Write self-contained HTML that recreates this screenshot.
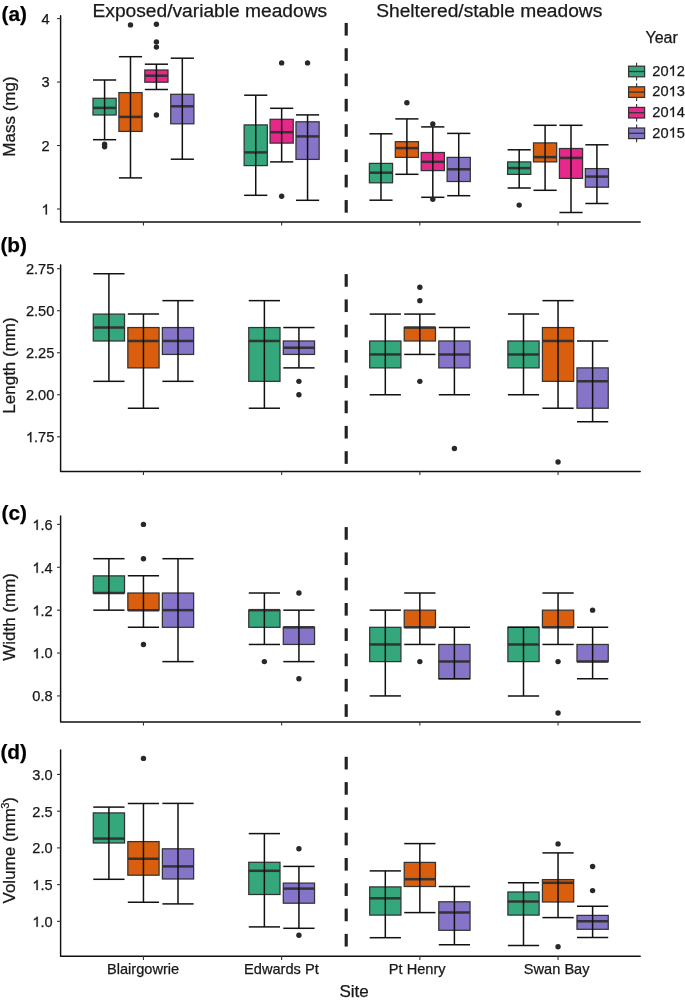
<!DOCTYPE html>
<html><head><meta charset="utf-8"><style>
html,body{margin:0;padding:0;background:#fff;}
svg{display:block;font-family:"Liberation Sans", sans-serif;will-change:transform;}
text{stroke:#111;stroke-width:0.25px;}
</style></head><body>
<svg width="685" height="1002" viewBox="0 0 685 1002">
<rect width="685" height="1002" fill="#fff"/>
<rect x="344.62" y="22.95" width="3.16" height="12.65" fill="#222"/>
<rect x="344.62" y="48.25" width="3.16" height="12.65" fill="#222"/>
<rect x="344.62" y="73.55" width="3.16" height="12.65" fill="#222"/>
<rect x="344.62" y="98.85" width="3.16" height="12.65" fill="#222"/>
<rect x="344.62" y="124.15" width="3.16" height="12.65" fill="#222"/>
<rect x="344.62" y="149.45" width="3.16" height="12.65" fill="#222"/>
<rect x="344.62" y="174.75" width="3.16" height="12.65" fill="#222"/>
<rect x="344.62" y="200.05" width="3.16" height="12.65" fill="#222"/>
<rect x="92.99" y="98.3" width="23.18" height="16.7" fill="#34a77c" stroke="#333333" stroke-width="1.25"/>
<line x1="92.99" x2="116.17" y1="107.9" y2="107.9" stroke="#333333" stroke-width="2.5"/>
<line x1="104.58" x2="104.58" y1="80" y2="139.7" stroke="#111111" stroke-width="1.5"/>
<line x1="92.99" x2="116.17" y1="80" y2="80" stroke="#111111" stroke-width="1.5"/>
<line x1="92.99" x2="116.17" y1="139.7" y2="139.7" stroke="#111111" stroke-width="1.5"/>
<circle cx="104.58" cy="144.3" r="2.7" fill="#2b2725"/>
<circle cx="104.58" cy="146.8" r="2.7" fill="#2b2725"/>
<rect x="118.9" y="92.6" width="23.18" height="38.8" fill="#d95f0e" stroke="#333333" stroke-width="1.25"/>
<line x1="118.9" x2="142.09" y1="116.9" y2="116.9" stroke="#333333" stroke-width="2.5"/>
<line x1="130.49" x2="130.49" y1="56.7" y2="177.9" stroke="#111111" stroke-width="1.5"/>
<line x1="118.9" x2="142.09" y1="56.7" y2="56.7" stroke="#111111" stroke-width="1.5"/>
<line x1="118.9" x2="142.09" y1="177.9" y2="177.9" stroke="#111111" stroke-width="1.5"/>
<circle cx="130.49" cy="24.9" r="2.7" fill="#2b2725"/>
<rect x="144.81" y="70" width="23.18" height="12.2" fill="#e5288a" stroke="#333333" stroke-width="1.25"/>
<line x1="144.81" x2="168" y1="75.7" y2="75.7" stroke="#333333" stroke-width="2.5"/>
<line x1="156.41" x2="156.41" y1="64.2" y2="89.5" stroke="#111111" stroke-width="1.5"/>
<line x1="144.81" x2="168" y1="64.2" y2="64.2" stroke="#111111" stroke-width="1.5"/>
<line x1="144.81" x2="168" y1="89.5" y2="89.5" stroke="#111111" stroke-width="1.5"/>
<circle cx="156.41" cy="24.3" r="2.7" fill="#2b2725"/>
<circle cx="156.41" cy="41.9" r="2.7" fill="#2b2725"/>
<circle cx="156.41" cy="47.1" r="2.7" fill="#2b2725"/>
<circle cx="156.41" cy="115" r="2.7" fill="#2b2725"/>
<rect x="170.73" y="94.3" width="23.18" height="29.5" fill="#8574c7" stroke="#333333" stroke-width="1.25"/>
<line x1="170.73" x2="193.91" y1="106.3" y2="106.3" stroke="#333333" stroke-width="2.5"/>
<line x1="182.32" x2="182.32" y1="58.2" y2="159.2" stroke="#111111" stroke-width="1.5"/>
<line x1="170.73" x2="193.91" y1="58.2" y2="58.2" stroke="#111111" stroke-width="1.5"/>
<line x1="170.73" x2="193.91" y1="159.2" y2="159.2" stroke="#111111" stroke-width="1.5"/>
<rect x="244.14" y="124.9" width="23.18" height="40.7" fill="#34a77c" stroke="#333333" stroke-width="1.25"/>
<line x1="244.14" x2="267.33" y1="152.4" y2="152.4" stroke="#333333" stroke-width="2.5"/>
<line x1="255.74" x2="255.74" y1="95.2" y2="195.3" stroke="#111111" stroke-width="1.5"/>
<line x1="244.14" x2="267.33" y1="95.2" y2="95.2" stroke="#111111" stroke-width="1.5"/>
<line x1="244.14" x2="267.33" y1="195.3" y2="195.3" stroke="#111111" stroke-width="1.5"/>
<rect x="270.06" y="119.3" width="23.18" height="23.8" fill="#e5288a" stroke="#333333" stroke-width="1.25"/>
<line x1="270.06" x2="293.24" y1="132.2" y2="132.2" stroke="#333333" stroke-width="2.5"/>
<line x1="281.65" x2="281.65" y1="108.3" y2="161.9" stroke="#111111" stroke-width="1.5"/>
<line x1="270.06" x2="293.24" y1="108.3" y2="108.3" stroke="#111111" stroke-width="1.5"/>
<line x1="270.06" x2="293.24" y1="161.9" y2="161.9" stroke="#111111" stroke-width="1.5"/>
<circle cx="281.65" cy="62.9" r="2.7" fill="#2b2725"/>
<circle cx="281.65" cy="196.2" r="2.7" fill="#2b2725"/>
<rect x="295.97" y="121.8" width="23.18" height="37.6" fill="#8574c7" stroke="#333333" stroke-width="1.25"/>
<line x1="295.97" x2="319.15" y1="136.4" y2="136.4" stroke="#333333" stroke-width="2.5"/>
<line x1="307.56" x2="307.56" y1="114.9" y2="200.3" stroke="#111111" stroke-width="1.5"/>
<line x1="295.97" x2="319.15" y1="114.9" y2="114.9" stroke="#111111" stroke-width="1.5"/>
<line x1="295.97" x2="319.15" y1="200.3" y2="200.3" stroke="#111111" stroke-width="1.5"/>
<circle cx="307.56" cy="62.9" r="2.7" fill="#2b2725"/>
<rect x="369.39" y="163.4" width="23.18" height="19.4" fill="#34a77c" stroke="#333333" stroke-width="1.25"/>
<line x1="369.39" x2="392.57" y1="172.7" y2="172.7" stroke="#333333" stroke-width="2.5"/>
<line x1="380.98" x2="380.98" y1="133.8" y2="200.2" stroke="#111111" stroke-width="1.5"/>
<line x1="369.39" x2="392.57" y1="133.8" y2="133.8" stroke="#111111" stroke-width="1.5"/>
<line x1="369.39" x2="392.57" y1="200.2" y2="200.2" stroke="#111111" stroke-width="1.5"/>
<rect x="395.3" y="141.7" width="23.18" height="15.7" fill="#d95f0e" stroke="#333333" stroke-width="1.25"/>
<line x1="395.3" x2="418.49" y1="148.1" y2="148.1" stroke="#333333" stroke-width="2.5"/>
<line x1="406.89" x2="406.89" y1="118.9" y2="174.3" stroke="#111111" stroke-width="1.5"/>
<line x1="395.3" x2="418.49" y1="118.9" y2="118.9" stroke="#111111" stroke-width="1.5"/>
<line x1="395.3" x2="418.49" y1="174.3" y2="174.3" stroke="#111111" stroke-width="1.5"/>
<circle cx="406.89" cy="102.8" r="2.7" fill="#2b2725"/>
<rect x="421.21" y="152.5" width="23.18" height="18.1" fill="#e5288a" stroke="#333333" stroke-width="1.25"/>
<line x1="421.21" x2="444.4" y1="161.8" y2="161.8" stroke="#333333" stroke-width="2.5"/>
<line x1="432.81" x2="432.81" y1="126.9" y2="197.3" stroke="#111111" stroke-width="1.5"/>
<line x1="421.21" x2="444.4" y1="126.9" y2="126.9" stroke="#111111" stroke-width="1.5"/>
<line x1="421.21" x2="444.4" y1="197.3" y2="197.3" stroke="#111111" stroke-width="1.5"/>
<circle cx="432.81" cy="124" r="2.7" fill="#2b2725"/>
<circle cx="432.81" cy="199.2" r="2.7" fill="#2b2725"/>
<rect x="447.13" y="157.4" width="23.18" height="24.1" fill="#8574c7" stroke="#333333" stroke-width="1.25"/>
<line x1="447.13" x2="470.31" y1="169.3" y2="169.3" stroke="#333333" stroke-width="2.5"/>
<line x1="458.72" x2="458.72" y1="133.4" y2="195.7" stroke="#111111" stroke-width="1.5"/>
<line x1="447.13" x2="470.31" y1="133.4" y2="133.4" stroke="#111111" stroke-width="1.5"/>
<line x1="447.13" x2="470.31" y1="195.7" y2="195.7" stroke="#111111" stroke-width="1.5"/>
<rect x="507.59" y="161.9" width="23.18" height="12.5" fill="#34a77c" stroke="#333333" stroke-width="1.25"/>
<line x1="507.59" x2="530.77" y1="168.1" y2="168.1" stroke="#333333" stroke-width="2.5"/>
<line x1="519.18" x2="519.18" y1="149.8" y2="188" stroke="#111111" stroke-width="1.5"/>
<line x1="507.59" x2="530.77" y1="149.8" y2="149.8" stroke="#111111" stroke-width="1.5"/>
<line x1="507.59" x2="530.77" y1="188" y2="188" stroke="#111111" stroke-width="1.5"/>
<circle cx="519.18" cy="205.1" r="2.7" fill="#2b2725"/>
<rect x="533.5" y="142.9" width="23.18" height="19" fill="#d95f0e" stroke="#333333" stroke-width="1.25"/>
<line x1="533.5" x2="556.69" y1="157.1" y2="157.1" stroke="#333333" stroke-width="2.5"/>
<line x1="545.09" x2="545.09" y1="125.3" y2="190.3" stroke="#111111" stroke-width="1.5"/>
<line x1="533.5" x2="556.69" y1="125.3" y2="125.3" stroke="#111111" stroke-width="1.5"/>
<line x1="533.5" x2="556.69" y1="190.3" y2="190.3" stroke="#111111" stroke-width="1.5"/>
<rect x="559.41" y="148.5" width="23.18" height="29.9" fill="#e5288a" stroke="#333333" stroke-width="1.25"/>
<line x1="559.41" x2="582.6" y1="157.9" y2="157.9" stroke="#333333" stroke-width="2.5"/>
<line x1="571.01" x2="571.01" y1="125.3" y2="212.5" stroke="#111111" stroke-width="1.5"/>
<line x1="559.41" x2="582.6" y1="125.3" y2="125.3" stroke="#111111" stroke-width="1.5"/>
<line x1="559.41" x2="582.6" y1="212.5" y2="212.5" stroke="#111111" stroke-width="1.5"/>
<rect x="585.33" y="168.6" width="23.18" height="18.6" fill="#8574c7" stroke="#333333" stroke-width="1.25"/>
<line x1="585.33" x2="608.51" y1="176.6" y2="176.6" stroke="#333333" stroke-width="2.5"/>
<line x1="596.92" x2="596.92" y1="144.8" y2="203.5" stroke="#111111" stroke-width="1.5"/>
<line x1="585.33" x2="608.51" y1="144.8" y2="144.8" stroke="#111111" stroke-width="1.5"/>
<line x1="585.33" x2="608.51" y1="203.5" y2="203.5" stroke="#111111" stroke-width="1.5"/>
<path d="M60.6,15.72V221.95H640.23" fill="none" stroke="#111111" stroke-width="1.45" stroke-linecap="round" stroke-linejoin="round"/>
<line x1="57" x2="60.6" y1="209" y2="209" stroke="#333" stroke-width="1.1"/>
<text x="41.48" y="214.4" font-size="14.6" fill="#1a1a1a"> </text>
<path d="M763 0L583 0L583 1106Q518 1047 413 987Q308 927 223 897L223 1065Q365 1130 471 1220Q577 1311 621 1420L763 1420Z" transform="translate(41.48,214.4) scale(0.00713,-0.00713)" fill="#1a1a1a" stroke="#111" stroke-width="35.1"/>
<line x1="57" x2="60.6" y1="145.53" y2="145.53" stroke="#333" stroke-width="1.1"/>
<text x="41.48" y="150.93" font-size="14.6" fill="#1a1a1a">2</text>
<line x1="57" x2="60.6" y1="82.06" y2="82.06" stroke="#333" stroke-width="1.1"/>
<text x="41.48" y="87.46" font-size="14.6" fill="#1a1a1a">3</text>
<line x1="57" x2="60.6" y1="18.59" y2="18.59" stroke="#333" stroke-width="1.1"/>
<text x="41.48" y="23.99" font-size="14.6" fill="#1a1a1a">4</text>
<line x1="143.45" x2="143.45" y1="221.95" y2="225.55" stroke="#333" stroke-width="1.1"/>
<line x1="281.65" x2="281.65" y1="221.95" y2="225.55" stroke="#333" stroke-width="1.1"/>
<line x1="419.85" x2="419.85" y1="221.95" y2="225.55" stroke="#333" stroke-width="1.1"/>
<line x1="558.05" x2="558.05" y1="221.95" y2="225.55" stroke="#333" stroke-width="1.1"/>
<text transform="translate(15.1,116.5) rotate(-90)" text-anchor="middle" font-size="17" fill="#1a1a1a">Mass (mg)</text>
<text x="27.0" y="20.7" text-anchor="end" font-size="20.8" font-weight="bold" fill="#000">(a)</text>
<rect x="344.62" y="274.1" width="3.16" height="12.65" fill="#222"/>
<rect x="344.62" y="299.4" width="3.16" height="12.65" fill="#222"/>
<rect x="344.62" y="324.7" width="3.16" height="12.65" fill="#222"/>
<rect x="344.62" y="350" width="3.16" height="12.65" fill="#222"/>
<rect x="344.62" y="375.3" width="3.16" height="12.65" fill="#222"/>
<rect x="344.62" y="400.6" width="3.16" height="12.65" fill="#222"/>
<rect x="344.62" y="425.9" width="3.16" height="12.65" fill="#222"/>
<rect x="344.62" y="451.2" width="3.16" height="12.65" fill="#222"/>
<rect x="93.28" y="314.09" width="31.25" height="26.9" fill="#34a77c" stroke="#333333" stroke-width="1.25"/>
<line x1="93.28" x2="124.52" y1="327.54" y2="327.54" stroke="#333333" stroke-width="2.5"/>
<line x1="108.9" x2="108.9" y1="273.74" y2="381.33" stroke="#111111" stroke-width="1.5"/>
<line x1="93.28" x2="124.52" y1="273.74" y2="273.74" stroke="#111111" stroke-width="1.5"/>
<line x1="93.28" x2="124.52" y1="381.33" y2="381.33" stroke="#111111" stroke-width="1.5"/>
<rect x="127.83" y="327.54" width="31.25" height="40.34" fill="#d95f0e" stroke="#333333" stroke-width="1.25"/>
<line x1="127.83" x2="159.07" y1="340.98" y2="340.98" stroke="#333333" stroke-width="2.5"/>
<line x1="143.45" x2="143.45" y1="314.09" y2="408.22" stroke="#111111" stroke-width="1.5"/>
<line x1="127.83" x2="159.07" y1="314.09" y2="314.09" stroke="#111111" stroke-width="1.5"/>
<line x1="127.83" x2="159.07" y1="408.22" y2="408.22" stroke="#111111" stroke-width="1.5"/>
<rect x="162.38" y="327.54" width="31.25" height="26.9" fill="#8574c7" stroke="#333333" stroke-width="1.25"/>
<line x1="162.38" x2="193.62" y1="340.98" y2="340.98" stroke="#333333" stroke-width="2.5"/>
<line x1="178" x2="178" y1="300.64" y2="381.33" stroke="#111111" stroke-width="1.5"/>
<line x1="162.38" x2="193.62" y1="300.64" y2="300.64" stroke="#111111" stroke-width="1.5"/>
<line x1="162.38" x2="193.62" y1="381.33" y2="381.33" stroke="#111111" stroke-width="1.5"/>
<rect x="248.75" y="327.54" width="31.25" height="53.79" fill="#34a77c" stroke="#333333" stroke-width="1.25"/>
<line x1="248.75" x2="280" y1="340.98" y2="340.98" stroke="#333333" stroke-width="2.5"/>
<line x1="264.38" x2="264.38" y1="300.64" y2="408.22" stroke="#111111" stroke-width="1.5"/>
<line x1="248.75" x2="280" y1="300.64" y2="300.64" stroke="#111111" stroke-width="1.5"/>
<line x1="248.75" x2="280" y1="408.22" y2="408.22" stroke="#111111" stroke-width="1.5"/>
<rect x="283.3" y="340.98" width="31.25" height="13.45" fill="#8574c7" stroke="#333333" stroke-width="1.25"/>
<line x1="283.3" x2="314.55" y1="347.71" y2="347.71" stroke="#333333" stroke-width="2.5"/>
<line x1="298.92" x2="298.92" y1="327.54" y2="367.88" stroke="#111111" stroke-width="1.5"/>
<line x1="283.3" x2="314.55" y1="327.54" y2="327.54" stroke="#111111" stroke-width="1.5"/>
<line x1="283.3" x2="314.55" y1="367.88" y2="367.88" stroke="#111111" stroke-width="1.5"/>
<circle cx="298.92" cy="381.33" r="2.7" fill="#2b2725"/>
<circle cx="298.92" cy="394.77" r="2.7" fill="#2b2725"/>
<rect x="369.68" y="340.98" width="31.25" height="26.9" fill="#34a77c" stroke="#333333" stroke-width="1.25"/>
<line x1="369.68" x2="400.92" y1="354.43" y2="354.43" stroke="#333333" stroke-width="2.5"/>
<line x1="385.3" x2="385.3" y1="314.09" y2="394.77" stroke="#111111" stroke-width="1.5"/>
<line x1="369.68" x2="400.92" y1="314.09" y2="314.09" stroke="#111111" stroke-width="1.5"/>
<line x1="369.68" x2="400.92" y1="394.77" y2="394.77" stroke="#111111" stroke-width="1.5"/>
<rect x="404.23" y="327.54" width="31.25" height="13.45" fill="#d95f0e" stroke="#333333" stroke-width="1.25"/>
<line x1="404.23" x2="435.47" y1="327.54" y2="327.54" stroke="#333333" stroke-width="2.5"/>
<line x1="419.85" x2="419.85" y1="314.09" y2="354.43" stroke="#111111" stroke-width="1.5"/>
<line x1="404.23" x2="435.47" y1="314.09" y2="314.09" stroke="#111111" stroke-width="1.5"/>
<line x1="404.23" x2="435.47" y1="354.43" y2="354.43" stroke="#111111" stroke-width="1.5"/>
<circle cx="419.85" cy="287.19" r="2.7" fill="#2b2725"/>
<circle cx="419.85" cy="300.64" r="2.7" fill="#2b2725"/>
<circle cx="419.85" cy="381.33" r="2.7" fill="#2b2725"/>
<rect x="438.78" y="340.98" width="31.25" height="26.9" fill="#8574c7" stroke="#333333" stroke-width="1.25"/>
<line x1="438.78" x2="470.02" y1="354.43" y2="354.43" stroke="#333333" stroke-width="2.5"/>
<line x1="454.4" x2="454.4" y1="327.54" y2="394.77" stroke="#111111" stroke-width="1.5"/>
<line x1="438.78" x2="470.02" y1="327.54" y2="327.54" stroke="#111111" stroke-width="1.5"/>
<line x1="438.78" x2="470.02" y1="394.77" y2="394.77" stroke="#111111" stroke-width="1.5"/>
<circle cx="454.4" cy="448.57" r="2.7" fill="#2b2725"/>
<rect x="507.88" y="340.98" width="31.25" height="26.9" fill="#34a77c" stroke="#333333" stroke-width="1.25"/>
<line x1="507.88" x2="539.12" y1="354.43" y2="354.43" stroke="#333333" stroke-width="2.5"/>
<line x1="523.5" x2="523.5" y1="314.09" y2="394.77" stroke="#111111" stroke-width="1.5"/>
<line x1="507.88" x2="539.12" y1="314.09" y2="314.09" stroke="#111111" stroke-width="1.5"/>
<line x1="507.88" x2="539.12" y1="394.77" y2="394.77" stroke="#111111" stroke-width="1.5"/>
<rect x="542.43" y="327.54" width="31.25" height="53.79" fill="#d95f0e" stroke="#333333" stroke-width="1.25"/>
<line x1="542.43" x2="573.67" y1="340.98" y2="340.98" stroke="#333333" stroke-width="2.5"/>
<line x1="558.05" x2="558.05" y1="300.64" y2="408.22" stroke="#111111" stroke-width="1.5"/>
<line x1="542.43" x2="573.67" y1="300.64" y2="300.64" stroke="#111111" stroke-width="1.5"/>
<line x1="542.43" x2="573.67" y1="408.22" y2="408.22" stroke="#111111" stroke-width="1.5"/>
<circle cx="558.05" cy="462.01" r="2.7" fill="#2b2725"/>
<rect x="576.98" y="367.88" width="31.25" height="40.34" fill="#8574c7" stroke="#333333" stroke-width="1.25"/>
<line x1="576.98" x2="608.22" y1="381.33" y2="381.33" stroke="#333333" stroke-width="2.5"/>
<line x1="592.6" x2="592.6" y1="340.98" y2="421.67" stroke="#111111" stroke-width="1.5"/>
<line x1="576.98" x2="608.22" y1="340.98" y2="340.98" stroke="#111111" stroke-width="1.5"/>
<line x1="576.98" x2="608.22" y1="421.67" y2="421.67" stroke="#111111" stroke-width="1.5"/>
<path d="M60.6,265.03V471.4H640.23" fill="none" stroke="#111111" stroke-width="1.45" stroke-linecap="round" stroke-linejoin="round"/>
<line x1="57" x2="60.6" y1="436.8" y2="436.8" stroke="#333" stroke-width="1.1"/>
<text x="25.93" y="442.2" font-size="14.6" fill="#1a1a1a"> .75</text>
<path d="M763 0L583 0L583 1106Q518 1047 413 987Q308 927 223 897L223 1065Q365 1130 471 1220Q577 1311 621 1420L763 1420Z" transform="translate(25.93,442.2) scale(0.00713,-0.00713)" fill="#1a1a1a" stroke="#111" stroke-width="35.1"/>
<line x1="57" x2="60.6" y1="394.77" y2="394.77" stroke="#333" stroke-width="1.1"/>
<text x="25.93" y="400.17" font-size="14.6" fill="#1a1a1a">2.00</text>
<line x1="57" x2="60.6" y1="352.75" y2="352.75" stroke="#333" stroke-width="1.1"/>
<text x="25.93" y="358.15" font-size="14.6" fill="#1a1a1a">2.25</text>
<line x1="57" x2="60.6" y1="310.72" y2="310.72" stroke="#333" stroke-width="1.1"/>
<text x="25.93" y="316.12" font-size="14.6" fill="#1a1a1a">2.50</text>
<line x1="57" x2="60.6" y1="268.7" y2="268.7" stroke="#333" stroke-width="1.1"/>
<text x="25.93" y="274.1" font-size="14.6" fill="#1a1a1a">2.75</text>
<line x1="143.45" x2="143.45" y1="471.4" y2="475" stroke="#333" stroke-width="1.1"/>
<line x1="281.65" x2="281.65" y1="471.4" y2="475" stroke="#333" stroke-width="1.1"/>
<line x1="419.85" x2="419.85" y1="471.4" y2="475" stroke="#333" stroke-width="1.1"/>
<line x1="558.05" x2="558.05" y1="471.4" y2="475" stroke="#333" stroke-width="1.1"/>
<text transform="translate(15.1,365.5) rotate(-90)" text-anchor="middle" font-size="17" fill="#1a1a1a">Length (mm)</text>
<text x="27.0" y="251.9" text-anchor="end" font-size="20.8" font-weight="bold" fill="#000">(b)</text>
<rect x="344.62" y="527.1" width="3.16" height="12.65" fill="#222"/>
<rect x="344.62" y="552.4" width="3.16" height="12.65" fill="#222"/>
<rect x="344.62" y="577.7" width="3.16" height="12.65" fill="#222"/>
<rect x="344.62" y="603" width="3.16" height="12.65" fill="#222"/>
<rect x="344.62" y="628.3" width="3.16" height="12.65" fill="#222"/>
<rect x="344.62" y="653.6" width="3.16" height="12.65" fill="#222"/>
<rect x="344.62" y="678.9" width="3.16" height="12.65" fill="#222"/>
<rect x="344.62" y="704.2" width="3.16" height="12.65" fill="#222"/>
<rect x="93.28" y="575.86" width="31.25" height="17.15" fill="#34a77c" stroke="#333333" stroke-width="1.25"/>
<line x1="93.28" x2="124.52" y1="593.01" y2="593.01" stroke="#333333" stroke-width="2.5"/>
<line x1="108.9" x2="108.9" y1="558.7" y2="610.16" stroke="#111111" stroke-width="1.5"/>
<line x1="93.28" x2="124.52" y1="558.7" y2="558.7" stroke="#111111" stroke-width="1.5"/>
<line x1="93.28" x2="124.52" y1="610.16" y2="610.16" stroke="#111111" stroke-width="1.5"/>
<rect x="127.83" y="593.01" width="31.25" height="17.15" fill="#d95f0e" stroke="#333333" stroke-width="1.25"/>
<line x1="127.83" x2="159.07" y1="610.16" y2="610.16" stroke="#333333" stroke-width="2.5"/>
<line x1="143.45" x2="143.45" y1="575.86" y2="627.31" stroke="#111111" stroke-width="1.5"/>
<line x1="127.83" x2="159.07" y1="575.86" y2="575.86" stroke="#111111" stroke-width="1.5"/>
<line x1="127.83" x2="159.07" y1="627.31" y2="627.31" stroke="#111111" stroke-width="1.5"/>
<circle cx="143.45" cy="524.4" r="2.7" fill="#2b2725"/>
<circle cx="143.45" cy="558.7" r="2.7" fill="#2b2725"/>
<circle cx="143.45" cy="644.46" r="2.7" fill="#2b2725"/>
<rect x="162.38" y="593.01" width="31.25" height="34.3" fill="#8574c7" stroke="#333333" stroke-width="1.25"/>
<line x1="162.38" x2="193.62" y1="610.16" y2="610.16" stroke="#333333" stroke-width="2.5"/>
<line x1="178" x2="178" y1="558.7" y2="661.62" stroke="#111111" stroke-width="1.5"/>
<line x1="162.38" x2="193.62" y1="558.7" y2="558.7" stroke="#111111" stroke-width="1.5"/>
<line x1="162.38" x2="193.62" y1="661.62" y2="661.62" stroke="#111111" stroke-width="1.5"/>
<rect x="248.75" y="610.16" width="31.25" height="17.15" fill="#34a77c" stroke="#333333" stroke-width="1.25"/>
<line x1="248.75" x2="280" y1="610.16" y2="610.16" stroke="#333333" stroke-width="2.5"/>
<line x1="264.38" x2="264.38" y1="593.01" y2="644.46" stroke="#111111" stroke-width="1.5"/>
<line x1="248.75" x2="280" y1="593.01" y2="593.01" stroke="#111111" stroke-width="1.5"/>
<line x1="248.75" x2="280" y1="644.46" y2="644.46" stroke="#111111" stroke-width="1.5"/>
<circle cx="264.38" cy="661.62" r="2.7" fill="#2b2725"/>
<rect x="283.3" y="627.31" width="31.25" height="17.15" fill="#8574c7" stroke="#333333" stroke-width="1.25"/>
<line x1="283.3" x2="314.55" y1="627.31" y2="627.31" stroke="#333333" stroke-width="2.5"/>
<line x1="298.92" x2="298.92" y1="610.16" y2="661.62" stroke="#111111" stroke-width="1.5"/>
<line x1="283.3" x2="314.55" y1="610.16" y2="610.16" stroke="#111111" stroke-width="1.5"/>
<line x1="283.3" x2="314.55" y1="661.62" y2="661.62" stroke="#111111" stroke-width="1.5"/>
<circle cx="298.92" cy="593.01" r="2.7" fill="#2b2725"/>
<circle cx="298.92" cy="678.77" r="2.7" fill="#2b2725"/>
<rect x="369.68" y="627.31" width="31.25" height="34.3" fill="#34a77c" stroke="#333333" stroke-width="1.25"/>
<line x1="369.68" x2="400.92" y1="644.46" y2="644.46" stroke="#333333" stroke-width="2.5"/>
<line x1="385.3" x2="385.3" y1="610.16" y2="695.92" stroke="#111111" stroke-width="1.5"/>
<line x1="369.68" x2="400.92" y1="610.16" y2="610.16" stroke="#111111" stroke-width="1.5"/>
<line x1="369.68" x2="400.92" y1="695.92" y2="695.92" stroke="#111111" stroke-width="1.5"/>
<rect x="404.23" y="610.16" width="31.25" height="17.15" fill="#d95f0e" stroke="#333333" stroke-width="1.25"/>
<line x1="404.23" x2="435.47" y1="627.31" y2="627.31" stroke="#333333" stroke-width="2.5"/>
<line x1="419.85" x2="419.85" y1="593.01" y2="644.46" stroke="#111111" stroke-width="1.5"/>
<line x1="404.23" x2="435.47" y1="593.01" y2="593.01" stroke="#111111" stroke-width="1.5"/>
<line x1="404.23" x2="435.47" y1="644.46" y2="644.46" stroke="#111111" stroke-width="1.5"/>
<circle cx="419.85" cy="661.62" r="2.7" fill="#2b2725"/>
<rect x="438.78" y="644.46" width="31.25" height="34.3" fill="#8574c7" stroke="#333333" stroke-width="1.25"/>
<line x1="438.78" x2="470.02" y1="661.62" y2="661.62" stroke="#333333" stroke-width="2.5"/>
<line x1="454.4" x2="454.4" y1="627.31" y2="678.77" stroke="#111111" stroke-width="1.5"/>
<line x1="438.78" x2="470.02" y1="627.31" y2="627.31" stroke="#111111" stroke-width="1.5"/>
<line x1="438.78" x2="470.02" y1="678.77" y2="678.77" stroke="#111111" stroke-width="1.5"/>
<rect x="507.88" y="627.31" width="31.25" height="34.3" fill="#34a77c" stroke="#333333" stroke-width="1.25"/>
<line x1="507.88" x2="539.12" y1="644.46" y2="644.46" stroke="#333333" stroke-width="2.5"/>
<line x1="523.5" x2="523.5" y1="627.31" y2="695.92" stroke="#111111" stroke-width="1.5"/>
<line x1="507.88" x2="539.12" y1="627.31" y2="627.31" stroke="#111111" stroke-width="1.5"/>
<line x1="507.88" x2="539.12" y1="695.92" y2="695.92" stroke="#111111" stroke-width="1.5"/>
<rect x="542.43" y="610.16" width="31.25" height="17.15" fill="#d95f0e" stroke="#333333" stroke-width="1.25"/>
<line x1="542.43" x2="573.67" y1="627.31" y2="627.31" stroke="#333333" stroke-width="2.5"/>
<line x1="558.05" x2="558.05" y1="593.01" y2="644.46" stroke="#111111" stroke-width="1.5"/>
<line x1="542.43" x2="573.67" y1="593.01" y2="593.01" stroke="#111111" stroke-width="1.5"/>
<line x1="542.43" x2="573.67" y1="644.46" y2="644.46" stroke="#111111" stroke-width="1.5"/>
<circle cx="558.05" cy="661.62" r="2.7" fill="#2b2725"/>
<circle cx="558.05" cy="713.07" r="2.7" fill="#2b2725"/>
<rect x="576.98" y="644.46" width="31.25" height="17.15" fill="#8574c7" stroke="#333333" stroke-width="1.25"/>
<line x1="576.98" x2="608.22" y1="661.62" y2="661.62" stroke="#333333" stroke-width="2.5"/>
<line x1="592.6" x2="592.6" y1="627.31" y2="678.77" stroke="#111111" stroke-width="1.5"/>
<line x1="576.98" x2="608.22" y1="627.31" y2="627.31" stroke="#111111" stroke-width="1.5"/>
<line x1="576.98" x2="608.22" y1="678.77" y2="678.77" stroke="#111111" stroke-width="1.5"/>
<circle cx="592.6" cy="610.16" r="2.7" fill="#2b2725"/>
<path d="M60.6,515.93V722H640.23" fill="none" stroke="#111111" stroke-width="1.45" stroke-linecap="round" stroke-linejoin="round"/>
<line x1="57" x2="60.6" y1="695.92" y2="695.92" stroke="#333" stroke-width="1.1"/>
<text x="32.35" y="701.32" font-size="14.6" fill="#1a1a1a">0.8</text>
<line x1="57" x2="60.6" y1="653.04" y2="653.04" stroke="#333" stroke-width="1.1"/>
<text x="32.35" y="658.44" font-size="14.6" fill="#1a1a1a"> .0</text>
<path d="M763 0L583 0L583 1106Q518 1047 413 987Q308 927 223 897L223 1065Q365 1130 471 1220Q577 1311 621 1420L763 1420Z" transform="translate(32.35,658.44) scale(0.00713,-0.00713)" fill="#1a1a1a" stroke="#111" stroke-width="35.1"/>
<line x1="57" x2="60.6" y1="610.16" y2="610.16" stroke="#333" stroke-width="1.1"/>
<text x="32.35" y="615.56" font-size="14.6" fill="#1a1a1a"> .2</text>
<path d="M763 0L583 0L583 1106Q518 1047 413 987Q308 927 223 897L223 1065Q365 1130 471 1220Q577 1311 621 1420L763 1420Z" transform="translate(32.35,615.56) scale(0.00713,-0.00713)" fill="#1a1a1a" stroke="#111" stroke-width="35.1"/>
<line x1="57" x2="60.6" y1="567.28" y2="567.28" stroke="#333" stroke-width="1.1"/>
<text x="32.35" y="572.68" font-size="14.6" fill="#1a1a1a"> .4</text>
<path d="M763 0L583 0L583 1106Q518 1047 413 987Q308 927 223 897L223 1065Q365 1130 471 1220Q577 1311 621 1420L763 1420Z" transform="translate(32.35,572.68) scale(0.00713,-0.00713)" fill="#1a1a1a" stroke="#111" stroke-width="35.1"/>
<line x1="57" x2="60.6" y1="524.4" y2="524.4" stroke="#333" stroke-width="1.1"/>
<text x="32.35" y="529.8" font-size="14.6" fill="#1a1a1a"> .6</text>
<path d="M763 0L583 0L583 1106Q518 1047 413 987Q308 927 223 897L223 1065Q365 1130 471 1220Q577 1311 621 1420L763 1420Z" transform="translate(32.35,529.8) scale(0.00713,-0.00713)" fill="#1a1a1a" stroke="#111" stroke-width="35.1"/>
<line x1="143.45" x2="143.45" y1="722" y2="725.6" stroke="#333" stroke-width="1.1"/>
<line x1="281.65" x2="281.65" y1="722" y2="725.6" stroke="#333" stroke-width="1.1"/>
<line x1="419.85" x2="419.85" y1="722" y2="725.6" stroke="#333" stroke-width="1.1"/>
<line x1="558.05" x2="558.05" y1="722" y2="725.6" stroke="#333" stroke-width="1.1"/>
<text transform="translate(15.1,616.9) rotate(-90)" text-anchor="middle" font-size="17" fill="#1a1a1a">Width (mm)</text>
<text x="27.0" y="519.6" text-anchor="end" font-size="20.8" font-weight="bold" fill="#000">(c)</text>
<rect x="344.62" y="756.8" width="3.16" height="12.65" fill="#222"/>
<rect x="344.62" y="782.1" width="3.16" height="12.65" fill="#222"/>
<rect x="344.62" y="807.4" width="3.16" height="12.65" fill="#222"/>
<rect x="344.62" y="832.7" width="3.16" height="12.65" fill="#222"/>
<rect x="344.62" y="858" width="3.16" height="12.65" fill="#222"/>
<rect x="344.62" y="883.3" width="3.16" height="12.65" fill="#222"/>
<rect x="344.62" y="908.6" width="3.16" height="12.65" fill="#222"/>
<rect x="344.62" y="933.9" width="3.16" height="12.65" fill="#222"/>
<rect x="93.28" y="812.9" width="31.25" height="30.1" fill="#34a77c" stroke="#333333" stroke-width="1.25"/>
<line x1="93.28" x2="124.52" y1="838.6" y2="838.6" stroke="#333333" stroke-width="2.5"/>
<line x1="108.9" x2="108.9" y1="807.1" y2="879.3" stroke="#111111" stroke-width="1.5"/>
<line x1="93.28" x2="124.52" y1="807.1" y2="807.1" stroke="#111111" stroke-width="1.5"/>
<line x1="93.28" x2="124.52" y1="879.3" y2="879.3" stroke="#111111" stroke-width="1.5"/>
<rect x="127.83" y="841.6" width="31.25" height="33.6" fill="#d95f0e" stroke="#333333" stroke-width="1.25"/>
<line x1="127.83" x2="159.07" y1="858.7" y2="858.7" stroke="#333333" stroke-width="2.5"/>
<line x1="143.45" x2="143.45" y1="803.4" y2="902.3" stroke="#111111" stroke-width="1.5"/>
<line x1="127.83" x2="159.07" y1="803.4" y2="803.4" stroke="#111111" stroke-width="1.5"/>
<line x1="127.83" x2="159.07" y1="902.3" y2="902.3" stroke="#111111" stroke-width="1.5"/>
<circle cx="143.45" cy="758.4" r="2.7" fill="#2b2725"/>
<rect x="162.38" y="848.8" width="31.25" height="30.2" fill="#8574c7" stroke="#333333" stroke-width="1.25"/>
<line x1="162.38" x2="193.62" y1="866.4" y2="866.4" stroke="#333333" stroke-width="2.5"/>
<line x1="178" x2="178" y1="803.4" y2="903.9" stroke="#111111" stroke-width="1.5"/>
<line x1="162.38" x2="193.62" y1="803.4" y2="803.4" stroke="#111111" stroke-width="1.5"/>
<line x1="162.38" x2="193.62" y1="903.9" y2="903.9" stroke="#111111" stroke-width="1.5"/>
<rect x="248.75" y="862.3" width="31.25" height="32.2" fill="#34a77c" stroke="#333333" stroke-width="1.25"/>
<line x1="248.75" x2="280" y1="870.8" y2="870.8" stroke="#333333" stroke-width="2.5"/>
<line x1="264.38" x2="264.38" y1="833.6" y2="926.9" stroke="#111111" stroke-width="1.5"/>
<line x1="248.75" x2="280" y1="833.6" y2="833.6" stroke="#111111" stroke-width="1.5"/>
<line x1="248.75" x2="280" y1="926.9" y2="926.9" stroke="#111111" stroke-width="1.5"/>
<rect x="283.3" y="883.1" width="31.25" height="20.1" fill="#8574c7" stroke="#333333" stroke-width="1.25"/>
<line x1="283.3" x2="314.55" y1="888.6" y2="888.6" stroke="#333333" stroke-width="2.5"/>
<line x1="298.92" x2="298.92" y1="866.4" y2="928.3" stroke="#111111" stroke-width="1.5"/>
<line x1="283.3" x2="314.55" y1="866.4" y2="866.4" stroke="#111111" stroke-width="1.5"/>
<line x1="283.3" x2="314.55" y1="928.3" y2="928.3" stroke="#111111" stroke-width="1.5"/>
<circle cx="298.92" cy="848.8" r="2.7" fill="#2b2725"/>
<circle cx="298.92" cy="935.3" r="2.7" fill="#2b2725"/>
<rect x="369.68" y="886.9" width="31.25" height="28.2" fill="#34a77c" stroke="#333333" stroke-width="1.25"/>
<line x1="369.68" x2="400.92" y1="898.3" y2="898.3" stroke="#333333" stroke-width="2.5"/>
<line x1="385.3" x2="385.3" y1="870.9" y2="937.7" stroke="#111111" stroke-width="1.5"/>
<line x1="369.68" x2="400.92" y1="870.9" y2="870.9" stroke="#111111" stroke-width="1.5"/>
<line x1="369.68" x2="400.92" y1="937.7" y2="937.7" stroke="#111111" stroke-width="1.5"/>
<rect x="404.23" y="862.4" width="31.25" height="24.1" fill="#d95f0e" stroke="#333333" stroke-width="1.25"/>
<line x1="404.23" x2="435.47" y1="879.2" y2="879.2" stroke="#333333" stroke-width="2.5"/>
<line x1="419.85" x2="419.85" y1="843.6" y2="912.6" stroke="#111111" stroke-width="1.5"/>
<line x1="404.23" x2="435.47" y1="843.6" y2="843.6" stroke="#111111" stroke-width="1.5"/>
<line x1="404.23" x2="435.47" y1="912.6" y2="912.6" stroke="#111111" stroke-width="1.5"/>
<rect x="438.78" y="901.8" width="31.25" height="28.5" fill="#8574c7" stroke="#333333" stroke-width="1.25"/>
<line x1="438.78" x2="470.02" y1="912.5" y2="912.5" stroke="#333333" stroke-width="2.5"/>
<line x1="454.4" x2="454.4" y1="886.6" y2="944.7" stroke="#111111" stroke-width="1.5"/>
<line x1="438.78" x2="470.02" y1="886.6" y2="886.6" stroke="#111111" stroke-width="1.5"/>
<line x1="438.78" x2="470.02" y1="944.7" y2="944.7" stroke="#111111" stroke-width="1.5"/>
<rect x="507.88" y="892" width="31.25" height="23.1" fill="#34a77c" stroke="#333333" stroke-width="1.25"/>
<line x1="507.88" x2="539.12" y1="901.5" y2="901.5" stroke="#333333" stroke-width="2.5"/>
<line x1="523.5" x2="523.5" y1="882.8" y2="945.6" stroke="#111111" stroke-width="1.5"/>
<line x1="507.88" x2="539.12" y1="882.8" y2="882.8" stroke="#111111" stroke-width="1.5"/>
<line x1="507.88" x2="539.12" y1="945.6" y2="945.6" stroke="#111111" stroke-width="1.5"/>
<rect x="542.43" y="879.6" width="31.25" height="22.4" fill="#d95f0e" stroke="#333333" stroke-width="1.25"/>
<line x1="542.43" x2="573.67" y1="882.8" y2="882.8" stroke="#333333" stroke-width="2.5"/>
<line x1="558.05" x2="558.05" y1="852.9" y2="917.6" stroke="#111111" stroke-width="1.5"/>
<line x1="542.43" x2="573.67" y1="852.9" y2="852.9" stroke="#111111" stroke-width="1.5"/>
<line x1="542.43" x2="573.67" y1="917.6" y2="917.6" stroke="#111111" stroke-width="1.5"/>
<circle cx="558.05" cy="843.9" r="2.7" fill="#2b2725"/>
<circle cx="558.05" cy="946.8" r="2.7" fill="#2b2725"/>
<rect x="576.98" y="915.4" width="31.25" height="13.9" fill="#8574c7" stroke="#333333" stroke-width="1.25"/>
<line x1="576.98" x2="608.22" y1="921.2" y2="921.2" stroke="#333333" stroke-width="2.5"/>
<line x1="592.6" x2="592.6" y1="906.2" y2="937.6" stroke="#111111" stroke-width="1.5"/>
<line x1="576.98" x2="608.22" y1="906.2" y2="906.2" stroke="#111111" stroke-width="1.5"/>
<line x1="576.98" x2="608.22" y1="937.6" y2="937.6" stroke="#111111" stroke-width="1.5"/>
<circle cx="592.6" cy="866.5" r="2.7" fill="#2b2725"/>
<circle cx="592.6" cy="890.6" r="2.7" fill="#2b2725"/>
<path d="M60.6,750.02V956.3H640.23" fill="none" stroke="#111111" stroke-width="1.45" stroke-linecap="round" stroke-linejoin="round"/>
<line x1="57" x2="60.6" y1="921.35" y2="921.35" stroke="#333" stroke-width="1.1"/>
<text x="32.3" y="926.75" font-size="14.6" fill="#1a1a1a"> .0</text>
<path d="M763 0L583 0L583 1106Q518 1047 413 987Q308 927 223 897L223 1065Q365 1130 471 1220Q577 1311 621 1420L763 1420Z" transform="translate(32.3,926.75) scale(0.00713,-0.00713)" fill="#1a1a1a" stroke="#111" stroke-width="35.1"/>
<line x1="57" x2="60.6" y1="884.62" y2="884.62" stroke="#333" stroke-width="1.1"/>
<text x="32.3" y="890.02" font-size="14.6" fill="#1a1a1a"> .5</text>
<path d="M763 0L583 0L583 1106Q518 1047 413 987Q308 927 223 897L223 1065Q365 1130 471 1220Q577 1311 621 1420L763 1420Z" transform="translate(32.3,890.02) scale(0.00713,-0.00713)" fill="#1a1a1a" stroke="#111" stroke-width="35.1"/>
<line x1="57" x2="60.6" y1="847.9" y2="847.9" stroke="#333" stroke-width="1.1"/>
<text x="32.3" y="853.3" font-size="14.6" fill="#1a1a1a">2.0</text>
<line x1="57" x2="60.6" y1="811.18" y2="811.18" stroke="#333" stroke-width="1.1"/>
<text x="32.3" y="816.58" font-size="14.6" fill="#1a1a1a">2.5</text>
<line x1="57" x2="60.6" y1="774.45" y2="774.45" stroke="#333" stroke-width="1.1"/>
<text x="32.3" y="779.85" font-size="14.6" fill="#1a1a1a">3.0</text>
<line x1="143.45" x2="143.45" y1="956.3" y2="959.9" stroke="#333" stroke-width="1.1"/>
<line x1="281.65" x2="281.65" y1="956.3" y2="959.9" stroke="#333" stroke-width="1.1"/>
<line x1="419.85" x2="419.85" y1="956.3" y2="959.9" stroke="#333" stroke-width="1.1"/>
<line x1="558.05" x2="558.05" y1="956.3" y2="959.9" stroke="#333" stroke-width="1.1"/>
<text transform="translate(15.1,850.3) rotate(-90)" text-anchor="middle" font-size="17" fill="#1a1a1a">Volume (mm<tspan font-size="11.2" dx="-0.6" dy="-6.0">3</tspan><tspan dx="-0.3" dy="6.0">)</tspan></text>
<text x="27.0" y="758.7" text-anchor="end" font-size="20.8" font-weight="bold" fill="#000">(d)</text>
<text x="143.1" y="973.7" text-anchor="middle" font-size="14.6" fill="#1a1a1a">Blairgowrie</text>
<text x="281.4" y="973.7" text-anchor="middle" font-size="14.6" fill="#1a1a1a">Edwards Pt</text>
<text x="417.2" y="973.7" text-anchor="middle" font-size="14.6" fill="#1a1a1a">Pt Henry</text>
<text x="556.7" y="973.7" text-anchor="middle" font-size="14.6" fill="#1a1a1a">Swan Bay</text>
<text x="354.1" y="996.5" text-anchor="middle" font-size="17" fill="#1a1a1a">Site</text>
<text x="92.5" y="16.8" font-size="19.2" fill="#1a1a1a">Exposed/variable meadows</text>
<text x="376.2" y="16.8" font-size="19.2" fill="#1a1a1a">Sheltered/stable meadows</text>
<text x="645.5" y="43" font-size="16" fill="#1a1a1a">Year</text>
<line x1="636.6" x2="636.6" y1="62.7" y2="80.4" stroke="#333333" stroke-width="1.15"/>
<rect x="628.6" y="66.2" width="16" height="10.6" fill="#34a77c" stroke="#333333" stroke-width="1.25"/>
<line x1="628.6" x2="644.6" y1="71.5" y2="71.5" stroke="#333333" stroke-width="1.3"/>
<text x="652.3" y="75.7" font-size="14.6" fill="#1a1a1a">20 2</text>
<path d="M763 0L583 0L583 1106Q518 1047 413 987Q308 927 223 897L223 1065Q365 1130 471 1220Q577 1311 621 1420L763 1420Z" transform="translate(668.54,75.7) scale(0.00713,-0.00713)" fill="#1a1a1a" stroke="#111" stroke-width="35.1"/>
<line x1="636.6" x2="636.6" y1="83.3" y2="101" stroke="#333333" stroke-width="1.15"/>
<rect x="628.6" y="86.8" width="16" height="10.6" fill="#d95f0e" stroke="#333333" stroke-width="1.25"/>
<line x1="628.6" x2="644.6" y1="92.1" y2="92.1" stroke="#333333" stroke-width="1.3"/>
<text x="652.3" y="96.3" font-size="14.6" fill="#1a1a1a">20 3</text>
<path d="M763 0L583 0L583 1106Q518 1047 413 987Q308 927 223 897L223 1065Q365 1130 471 1220Q577 1311 621 1420L763 1420Z" transform="translate(668.54,96.3) scale(0.00713,-0.00713)" fill="#1a1a1a" stroke="#111" stroke-width="35.1"/>
<line x1="636.6" x2="636.6" y1="103.9" y2="121.6" stroke="#333333" stroke-width="1.15"/>
<rect x="628.6" y="107.4" width="16" height="10.6" fill="#e5288a" stroke="#333333" stroke-width="1.25"/>
<line x1="628.6" x2="644.6" y1="112.7" y2="112.7" stroke="#333333" stroke-width="1.3"/>
<text x="652.3" y="116.9" font-size="14.6" fill="#1a1a1a">20 4</text>
<path d="M763 0L583 0L583 1106Q518 1047 413 987Q308 927 223 897L223 1065Q365 1130 471 1220Q577 1311 621 1420L763 1420Z" transform="translate(668.54,116.9) scale(0.00713,-0.00713)" fill="#1a1a1a" stroke="#111" stroke-width="35.1"/>
<line x1="636.6" x2="636.6" y1="124.5" y2="142.2" stroke="#333333" stroke-width="1.15"/>
<rect x="628.6" y="128" width="16" height="10.6" fill="#8574c7" stroke="#333333" stroke-width="1.25"/>
<line x1="628.6" x2="644.6" y1="133.3" y2="133.3" stroke="#333333" stroke-width="1.3"/>
<text x="652.3" y="137.5" font-size="14.6" fill="#1a1a1a">20 5</text>
<path d="M763 0L583 0L583 1106Q518 1047 413 987Q308 927 223 897L223 1065Q365 1130 471 1220Q577 1311 621 1420L763 1420Z" transform="translate(668.54,137.5) scale(0.00713,-0.00713)" fill="#1a1a1a" stroke="#111" stroke-width="35.1"/>
</svg>
</body></html>
